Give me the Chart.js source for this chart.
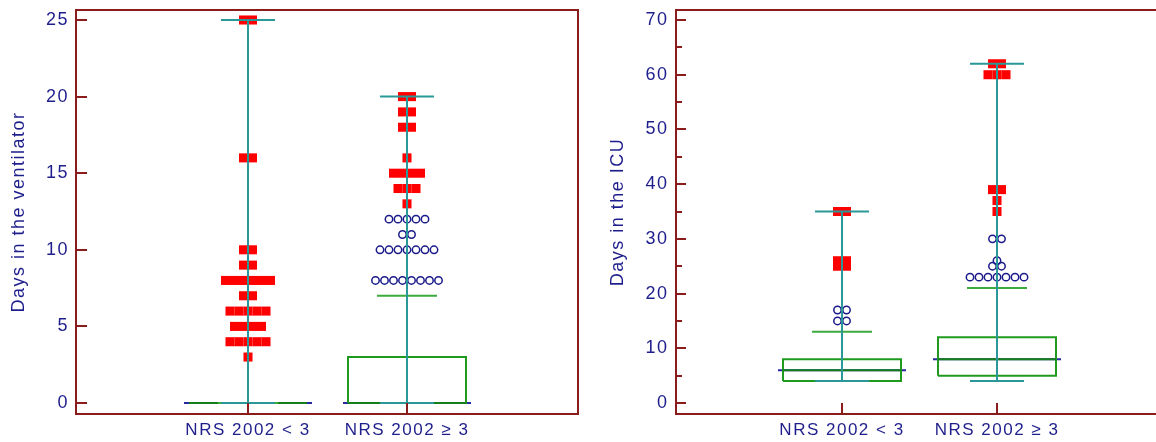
<!DOCTYPE html>
<html><head><meta charset="utf-8">
<script src="https://cdn.jsdelivr.net/npm/chart.js@4.4.1/dist/chart.umd.min.js"></script>
<style>
html,body{margin:0;padding:0;background:#fff;overflow:hidden;width:1156px;height:442px;position:relative;}
#c1{position:absolute;left:0;top:0;}
#c2{position:absolute;left:590px;top:0;}
</style></head><body>
<canvas id="c1" width="590" height="442"></canvas>
<canvas id="c2" width="600" height="442"></canvas>
<script>
// ---------- data ----------
const categories = ['NRS 2002 < 3', 'NRS 2002 \u2265 3'];

const ventTicks = [0, 5, 10, 15, 20, 25];
const ventQ1 = [0, 0];
const ventMedian = [0, 0];
const ventQ3 = [0, 3];
const ventMin = [0, 0];
const ventMax = [25, 20];
const ventAdjacent = [0, 7];
const ventNear1 = [];
const ventNear2 = [8,8,8,8,8,8,8,8, 10,10,10,10,10,10,10, 11,11, 12,12,12,12,12];
const ventFar1 = [25,25, 16,16, 10,10, 9,9, 8,8,8,8,8,8, 7,7, 6,6,6,6,6, 5,5,5,5, 4,4,4,4,4, 3];
const ventFar2 = [20,20, 19,19, 18,18, 16, 15,15,15,15, 14,14,14, 13];

const icuTicks = [0, 5, 10, 15, 20, 25, 30, 35, 40, 45, 50, 55, 60, 65, 70];
const icuQ1 = [4, 5];
const icuMedian = [6, 8];
const icuQ3 = [8, 12];
const icuMin = [4, 4];
const icuMax = [35, 62];
const icuAdjacent = [13, 21];
const icuNear1 = [15,15, 17,17];
const icuNear2 = [23,23,23,23,23,23,23, 25,25, 26, 30,30];
const icuFar1 = [25,25, 26,26, 35,35];
const icuFar2 = [35, 37, 39,39, 60,60,60, 62,62];

// ---------- styles ----------
const FRAME = '#8a1c1c', TEXT = '#1e1e8c', TEAL = '#2a9898', GREEN = '#1f9a1f',
      GREEN_LIGHT = '#3caa3c', GREEN_DARK = '#15801a', BLUE = '#2828a0', RED = '#ff0000', NAVY = '#1a1a8a';
const FONT = "'Liberation Sans', Arial, sans-serif";

function spread(values, center, step) {
  const counts = new Map();
  values.forEach(v => counts.set(v, (counts.get(v) || 0) + 1));
  const out = [];
  counts.forEach((n, v) => { for (let i = 0; i < n; i++) out.push({x: center + (i - (n - 1) / 2) * step, y: v}); });
  return out;
}
function paths(list) {
  const d = [];
  list.forEach((pts, i) => {
    if (i) d.push({x: pts[0][0], y: null});
    pts.forEach(p => d.push({x: p[0], y: p[1]}));
  });
  return d;
}
const lineDs = (data, color, order) => ({data, borderColor: color, borderWidth: 2, pointRadius: 0,
  pointHoverRadius: 0, fill: false, tension: 0, spanGaps: false, order, borderJoinStyle: 'miter', borderCapStyle: 'butt'});

function makeChart(id, p) {
  const ppu = (p.cat2 - p.cat1);                 // pixels per category unit
  const u = px => px / ppu;
  const xMin = 1 - (p.cat1 - p.left) / ppu;
  const xMax = xMin + (p.right - p.left) / ppu;
  const ppv = (p.zeroY - p.topTickY) / p.ticks[p.ticks.length - 1];
  const yMin = -(p.bottom - p.zeroY) / ppv;
  const yMax = yMin + (p.bottom - p.top) / ppv;

  const whiskers = [], boxes = [], medIn = [], medOut = [], adj = [], far = [], near = [];
  [0, 1].forEach(i => {
    const c = i + 1;
    whiskers.push([[c, p.min[i]], [c, p.max[i]]]);
    whiskers.push([[c - u(27), p.max[i]], [c + u(27), p.max[i]]]);
    whiskers.push([[c - u(27), p.min[i]], [c + u(27), p.min[i]]]);
    adj.push([[c - u(30), p.adj[i]], [c + u(30), p.adj[i]]]);
    boxes.push([[c - u(59), p.q1[i]], [c + u(59), p.q1[i]], [c + u(59), p.q3[i]], [c - u(59), p.q3[i]], [c - u(59), p.q1[i]]]);
    medIn.push([[c - u(59), p.med[i]], [c + u(59), p.med[i]]]);
    medOut.push([[c - u(64), p.med[i]], [c + u(64), p.med[i]]]);
    far.push(...spread(p.far[i], c, u(9)));
    near.push(...spread(p.near[i], c, u(9)));
  });

  const frame = {
    id: 'frame',
    beforeDraw(chart) { chart.ctx.letterSpacing = '1.5px'; },
    afterDraw(chart) {
      const {ctx, chartArea: a, scales: {x, y}} = chart;
      ctx.save();
      ctx.letterSpacing = '0px';
      ctx.strokeStyle = FRAME; ctx.lineWidth = 2; ctx.lineCap = 'butt';
      ctx.beginPath();
      y.ticks.forEach(t => {
        const py = Math.round(y.getPixelForValue(t.value));
        const len = (t.value % p.majorEvery === 0) ? p.majorLen : p.minorLen;
        ctx.moveTo(a.left, py); ctx.lineTo(a.left + len, py);
      });
      x.ticks.forEach(t => {
        const px = Math.round(x.getPixelForValue(t.value));
        ctx.moveTo(px, a.bottom); ctx.lineTo(px, a.bottom - 11);
      });
      ctx.stroke();
      ctx.strokeRect(a.left, a.top, a.right - a.left, a.bottom - a.top);
      ctx.restore();
      ctx.letterSpacing = '0px';
    }
  };

  return new Chart(document.getElementById(id), {
    type: 'line',
    data: {datasets: [
      lineDs(paths(whiskers), TEAL, 0),
      lineDs(paths(adj), GREEN_LIGHT, 1),
      lineDs(paths(medIn), GREEN_DARK, 1),
      lineDs(paths(boxes), GREEN, 1),
      lineDs(paths(medOut), BLUE, 2),
      {data: near, showLine: false, pointStyle: 'circle', pointRadius: 3.7, pointHoverRadius: 3.7,
       pointBackgroundColor: 'rgba(255,255,255,0)', pointBorderColor: NAVY, pointBorderWidth: 1.5, order: 3},
      {data: far, showLine: false, pointStyle: 'rect', pointRadius: 6.4, pointHoverRadius: 6.4,
       pointBackgroundColor: RED, pointBorderColor: RED, pointBorderWidth: 0, order: 3}
    ]},
    options: {
      responsive: false, animation: false, events: [],
      layout: {padding: {top: p.top, left: 0, right: p.canvasW - p.right, bottom: 0}},
      plugins: {legend: {display: false}, tooltip: {enabled: false}},
      scales: {
        x: {
          type: 'linear', min: xMin, max: xMax,
          grid: {display: false, drawTicks: false}, border: {display: false},
          afterBuildTicks: s => { s.ticks = [{value: 1}, {value: 2}]; },
          afterFit: s => { s.height = 442 - p.bottom; s.paddingLeft = 0; s.paddingRight = 0; },
          ticks: {autoSkip: false, maxRotation: 0, padding: 6, color: TEXT,
                  font: {family: FONT, size: 17}, callback: v => categories[v - 1]}
        },
        y: {
          type: 'linear', min: yMin, max: yMax,
          grid: {display: false, drawTicks: false}, border: {display: false},
          afterBuildTicks: s => { s.ticks = p.ticks.map(v => ({value: v})); },
          afterFit: s => { s.width = p.left; s.paddingTop = 0; s.paddingBottom = 0; },
          ticks: {autoSkip: false, padding: p.tickPad, color: TEXT, font: {family: FONT, size: 18},
                  callback: v => (v % p.majorEvery === 0 ? String(v) : '')},
          title: {display: true, text: p.title, color: TEXT, font: {family: FONT, size: 18},
                  padding: {top: p.titlePad, bottom: 0}}
        }
      }
    },
    plugins: [frame]
  });
}

makeChart('c1', {
  canvasW: 590, left: 76, right: 578, top: 10, bottom: 414, cat1: 248, cat2: 407,
  zeroY: 403, topTickY: 20, ticks: ventTicks, majorEvery: 5, majorLen: 11, minorLen: 6,
  tickPad: 7, titlePad: 8, title: 'Days in the ventilator',
  q1: ventQ1, med: ventMedian, q3: ventQ3, min: ventMin, max: ventMax, adj: ventAdjacent,
  near: [ventNear1, ventNear2], far: [ventFar1, ventFar2]
});
makeChart('c2', {
  canvasW: 600, left: 86, right: 577, top: 10, bottom: 414, cat1: 252, cat2: 407,
  zeroY: 403, topTickY: 20, ticks: icuTicks, majorEvery: 10, majorLen: 10, minorLen: 6,
  tickPad: 7.5, titlePad: 17, title: 'Days in the ICU',
  q1: icuQ1, med: icuMedian, q3: icuQ3, min: icuMin, max: icuMax, adj: icuAdjacent,
  near: [icuNear1, icuNear2], far: [icuFar1, icuFar2]
});
</script>
</body></html>
